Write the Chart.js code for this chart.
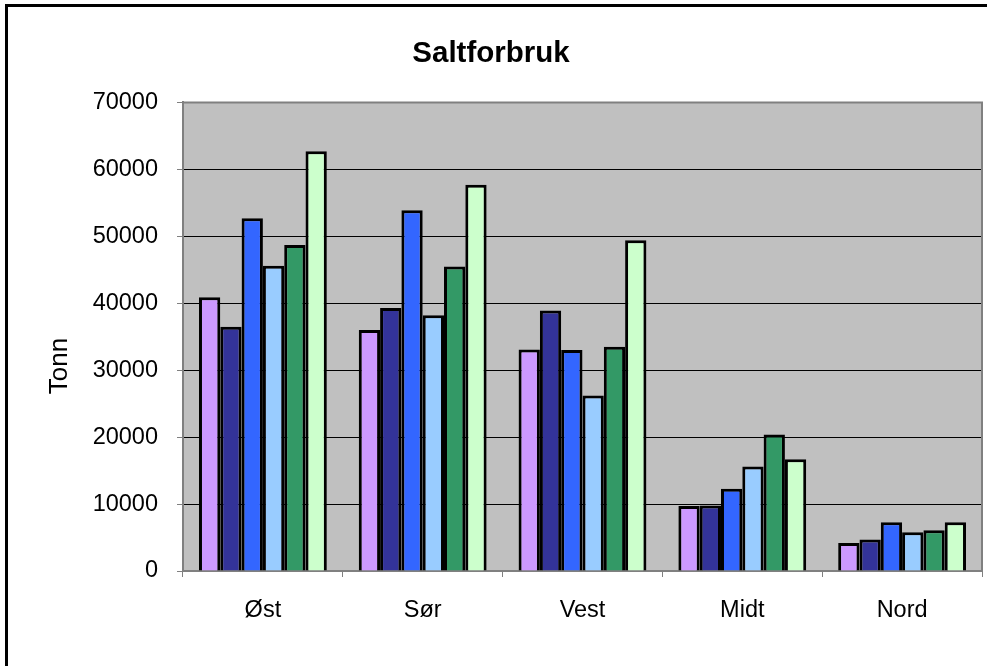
<!DOCTYPE html>
<html>
<head>
<meta charset="utf-8">
<script src="https://cdn.jsdelivr.net/npm/chart.js@4/dist/chart.umd.min.js"></script>
<style>
html,body{margin:0;padding:0;background:#fff;}
canvas{display:block;}
</style>
</head>
<body>
<canvas id="c" width="987" height="666"></canvas>
<script>
const categories = ["Øst", "Sør", "Vest", "Midt", "Nord"];
const serie1 = [40900, 36000, 33100, 9700, 4200];
const serie2 = [36500, 39300, 38900, 9800, 4700];
const serie3 = [52700, 53900, 33000, 12300, 7300];
const serie4 = [45600, 38200, 26200, 15600, 5800];
const serie5 = [48700, 45500, 33500, 20400, 6100];
const serie6 = [62700, 57700, 49400, 16700, 7300];
const seriesNames = ["Serie 1", "Serie 2", "Serie 3", "Serie 4", "Serie 5", "Serie 6"];
const seriesColors = ["#CC99FF", "#333399", "#3366FF", "#99CCFF", "#339966", "#CCFFCC"];
const yTicks = [0, 10000, 20000, 30000, 40000, 50000, 60000, 70000];
const yTitle = "Tonn";
const chartTitle = "Saltforbruk";

const allSeries = [serie1, serie2, serie3, serie4, serie5, serie6];
const FONT = "'Liberation Sans', Arial, sans-serif";

const framePlugin = {
  id: 'frame',
  beforeDraw(chart) {
    const {ctx, chartArea: a} = chart;
    ctx.save();
    ctx.fillStyle = '#ffffff';
    ctx.fillRect(0, 0, chart.width, chart.height);
    ctx.fillStyle = '#C0C0C0';
    ctx.fillRect(a.left, a.top, a.right - a.left, a.bottom - a.top);
    ctx.restore();
  },
  afterDraw(chart) {
    const {ctx, chartArea: a} = chart;
    ctx.save();
    ctx.strokeStyle = '#808080';
    ctx.lineWidth = 2;
    ctx.beginPath();
    ctx.moveTo(a.left, a.top);
    ctx.lineTo(a.right, a.top);
    ctx.lineTo(a.right, a.bottom);
    ctx.stroke();
    ctx.strokeStyle = '#000000';
    ctx.lineWidth = 3;
    ctx.strokeRect(6.5, 5.5, 1100, 800);
    // y axis title
    ctx.fillStyle = '#000';
    ctx.font = "26px " + FONT;
    ctx.textAlign = 'center';
    ctx.textBaseline = 'middle';
    ctx.translate(60, 366);
    ctx.rotate(-Math.PI / 2);
    ctx.fillText(yTitle, 0, 0);
    ctx.restore();
  }
};

new Chart(document.getElementById('c'), {
  type: 'bar',
  data: {
    labels: categories,
    datasets: allSeries.map((d, i) => ({
      label: seriesNames[i],
      data: d,
      backgroundColor: seriesColors[i],
      borderColor: '#000000',
      borderWidth: 3,
      categoryPercentage: 0.8,
      barPercentage: 1.0
    }))
  },
  options: {
    responsive: false,
    animation: false,
    layout: { padding: { left: 0, right: 5, top: 0, bottom: 0 } },
    plugins: {
      legend: { display: false },
      tooltip: { enabled: false },
      title: {
        display: true,
        text: chartTitle,
        color: '#000',
        font: { family: FONT, size: 29.5, weight: 'bold' },
        padding: { top: 36, bottom: 31 }
      }
    },
    scales: {
      x: {
        grid: { display: true, drawOnChartArea: false, drawTicks: true, tickLength: 6, color: '#808080', offset: true },
        border: { display: true, color: '#808080', width: 2 },
        ticks: { color: '#000', font: { family: FONT, size: 23.5 }, padding: 19 },
        afterFit(scale) { scale.height = 95; }
      },
      y: {
        min: 0, max: 70000,
        afterBuildTicks(scale) { scale.ticks = yTicks.map(v => ({ value: v })); },
        grid: { color: '#000000', lineWidth: 1, drawTicks: true, tickLength: 6, tickColor: '#808080', tickWidth: 1 },
        border: { display: true, color: '#808080', width: 2 },
        ticks: { color: '#000', font: { family: FONT, size: 23.5 }, padding: 19, callback: (v) => String(v) },
        afterFit(scale) { scale.width = 183; }
      }
    }
  },
  plugins: [framePlugin]
});
</script>
</body>
</html>
